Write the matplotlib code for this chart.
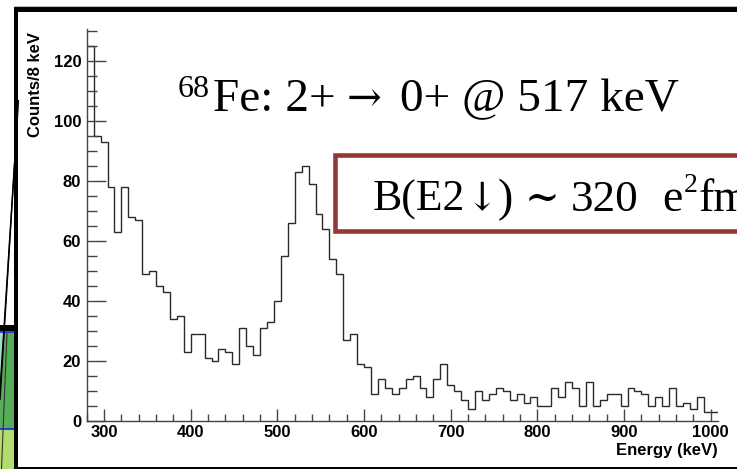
import matplotlib.pyplot as plt
import numpy as np
from matplotlib.lines import Line2D
from matplotlib.patches import Rectangle, Polygon
from matplotlib.ticker import MultipleLocator

W, H = 737, 469

# gamma spectrum, 8 keV bins (lower bin edges in keV)
bin_low = np.arange(280, 1008, 8)
counts = [125, 95, 93, 78, 63, 78, 68, 67, 49, 50,
          45, 43, 34, 35, 23, 29, 29, 21, 20, 24,
          23, 19, 31, 25, 22, 31, 33, 40, 55, 66,
          83, 85, 79, 69, 64, 54, 49, 27, 29, 19,
          18, 9, 14, 11, 9, 11, 14, 15, 11, 8,
          14, 19, 12, 10, 7, 4, 10, 7, 9, 11,
          10, 7, 9, 6, 8, 5, 5, 11, 8, 13,
          11, 5, 13, 5, 7, 9, 9, 5, 11, 10,
          9, 5, 8, 5, 11, 5, 6, 4, 8, 3,
          3]
x_ticks = [300, 400, 500, 600, 700, 800, 900, 1000]
y_ticks = [0, 20, 40, 60, 80, 100, 120]

SANS = ["Liberation Sans", "DejaVu Sans"]
SERIF = ["Liberation Serif", "DejaVu Serif"]
SYMB = ["DejaVu Serif"]

# text pieces: (left px, baseline px, string, family, size)
title_runs = [
    (178, 97, "68", SERIF, 23),
    (213, 111, "Fe: 2+", SERIF, 34),
    (347, 111, "\u2192", SYMB, 30),
    (400, 111, "0+ @ 517 keV", SERIF, 34),
]
box_runs = [
    (373, 210.7, "B(E2", SERIF, 31.5),
    (466, 210.7, "\u2193", SYMB, 28),
    (498, 210.7, ")", SERIF, 33),
    (525, 210.7, "~", SYMB, 30),
    (571, 210.7, "320", SERIF, 32.5),
    (662, 210.7, "e", SERIF, 33),
    (684, 192.5, "2", SERIF, 20),
    (699, 210.7, "fm", SERIF, 33),
]


def fx(x):
    return x / W


def fy(y):
    return 1 - y / H


def fig_line(fig, xs, ys, lw, color="black"):
    fig.add_artist(Line2D([fx(v) for v in xs], [fy(v) for v in ys],
                          transform=fig.transFigure, lw=lw, color=color,
                          solid_capstyle="butt"))


def fig_rect(fig, x0, y0, x1, y1, **kw):
    fig.add_artist(Rectangle((fx(x0), fy(y1)), fx(x1) - fx(x0), fy(y0) - fy(y1),
                             transform=fig.transFigure, **kw))


def put_runs(fig, runs):
    for x, y, s, fam, size in runs:
        fig.text(fx(x), fy(y), s, ha="left", va="baseline", family=fam,
                 fontsize=size, color="black")


fig = plt.figure(figsize=(W / 100, H / 100), dpi=100, facecolor="white")

# slide decorations on the left edge
fig_rect(fig, 0, 332, 13.5, 429, facecolor="#55ad55", edgecolor="none")
fig.add_artist(Polygon([(fx(0), fy(332)), (fx(4), fy(332)), (fx(0), fy(400))],
                       closed=True, transform=fig.transFigure,
                       facecolor="#a9d9cf", edgecolor="none"))
fig_rect(fig, 0, 429, 13.5, 469, facecolor="#b2dd6c", edgecolor="none")
fig_line(fig, [0, 13.5], [331.5, 331.5], 1.2, "#1a1aff")
fig_line(fig, [0, 13.5], [428.5, 428.5], 1.2, "#1a1aff")
fig_rect(fig, 0, 325, 15, 330.5, facecolor="black", edgecolor="none")
fig_line(fig, [18.5, 0], [100, 400], 1.0)
fig_line(fig, [16, 0], [140, 390], 1.0)
fig_line(fig, [7, 1.5], [333, 469], 0.8, "#333333")

# frame of the picture
fig_line(fig, [14, W], [6, 6], 0.8, "#bbbbbb")
fig_rect(fig, 14, 7.3, W, 11.7, facecolor="black", edgecolor="none")
fig_rect(fig, 14, 7.3, 17.5, H, facecolor="black", edgecolor="none")
fig_rect(fig, 14, 466.5, W, H, facecolor="black", edgecolor="none")

# histogram axes
ax = fig.add_axes([fx(86.7), fy(420.7), fx(717.7) - fx(86.7), fy(29) - fy(420.7)])
edges = np.append(bin_low, bin_low[-1] + 8)
ax.stairs(counts, edges, baseline=None, color="#2a2a2a", lw=1.0)
ax.set_xlim(280, 1008)
ax.set_ylim(0, 130.6)

for side in ["top", "right"]:
    ax.spines[side].set_visible(False)
for side in ["left", "bottom"]:
    ax.spines[side].set_color("#444444")
    ax.spines[side].set_linewidth(1.0)

ax.set_xticks(x_ticks)
ax.set_yticks(y_ticks)
ax.xaxis.set_minor_locator(MultipleLocator(20))
ax.yaxis.set_minor_locator(MultipleLocator(5))
ax.tick_params(axis="x", which="major", direction="in", length=9, width=1.0,
               color="#444444", pad=3)
ax.tick_params(axis="x", which="minor", direction="in", length=5.2, width=1.0,
               color="#444444")
ax.tick_params(axis="y", which="major", direction="in", length=13.4, width=1.0,
               color="#444444", pad=4)
ax.tick_params(axis="y", which="minor", direction="in", length=7.2, width=1.0,
               color="#444444")
for lab in ax.get_xticklabels() + ax.get_yticklabels():
    lab.set_family(SANS)
    lab.set_fontweight("bold")
    lab.set_fontsize(12)

fig.text(fx(35), fy(32), "Counts/8 keV", rotation=90, ha="center", va="top",
         family=SANS, fontweight="bold", fontsize=12)
fig.text(fx(717.7), fy(443), "Energy (keV)", ha="right", va="top",
         family=SANS, fontweight="bold", fontsize=12)

# annotations
put_runs(fig, title_runs)
fig_rect(fig, 335, 155, 800, 231.5, facecolor="white", edgecolor="#953735",
         lw=3.3)
put_runs(fig, box_runs)

fig.savefig("out.png", dpi=100, facecolor="white")
